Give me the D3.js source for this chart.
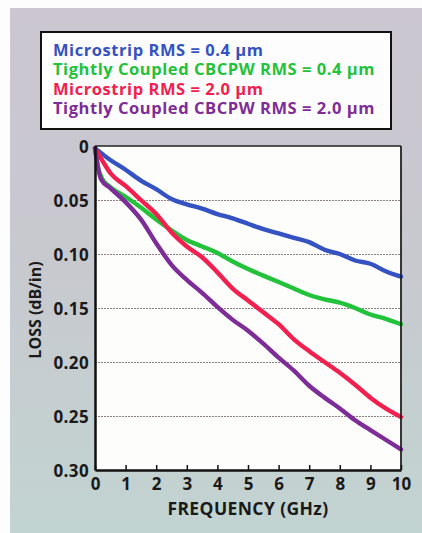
<!DOCTYPE html>
<html><head><meta charset="utf-8">
<script src="https://cdn.jsdelivr.net/npm/d3@7"></script>
<style>
html,body{margin:0;padding:0;background:#fff;}
svg{display:block;}
text{font-family:"Open Sans",sans-serif;font-weight:700;}
</style></head>
<body>
<svg id="chart" width="422" height="533"></svg>
<script>
// ---- data ----
const seriesNames = [
  "Microstrip RMS = 0.4 µm",
  "Tightly Coupled CBCPW RMS = 0.4 µm",
  "Microstrip RMS = 2.0 µm",
  "Tightly Coupled CBCPW RMS = 2.0 µm"
];
const seriesColors = ["#3452c2", "#22c23a", "#f2204e", "#7e2c98"];

const freqA = [0,0.5,1,1.5,2,2.5,3,3.5,4,4.5,5,5.5,6,6.5,7,7.5,8,8.5,9,9.5,10];
const microstrip04 = [0.002,0.013,0.022,0.032,0.040,0.049,0.054,0.058,0.063,0.067,0.072,0.077,0.081,0.085,0.089,0.096,0.100,0.106,0.109,0.116,0.121];

const freqB = [0,0.1,0.25,0.5,1,1.5,2,2.5,3,3.5,4,4.5,5,5.5,6,6.5,7,7.5,8,8.5,9,9.5,10];
const cbcpw04 = [0.002,0.020,0.031,0.038,0.047,0.057,0.068,0.078,0.087,0.093,0.099,0.107,0.114,0.120,0.126,0.132,0.138,0.142,0.145,0.150,0.156,0.160,0.165];

const freqC = [0,0.25,0.5,1,1.5,2,2.5,3,3.5,4,4.5,5,5.5,6,6.5,7,7.5,8,8.5,9,9.5,10];
const microstrip20 = [0.002,0.014,0.025,0.037,0.050,0.063,0.080,0.093,0.103,0.117,0.132,0.143,0.154,0.165,0.179,0.190,0.200,0.210,0.221,0.233,0.243,0.251];

const freqD = [0,0.1,0.2,0.5,1,1.5,2,2.5,3,3.5,4,4.5,5,5.5,6,6.5,7,7.5,8,8.5,9,9.5,10];
const cbcpw20 = [0.002,0.020,0.031,0.039,0.052,0.068,0.090,0.110,0.124,0.136,0.149,0.161,0.171,0.183,0.196,0.208,0.222,0.233,0.243,0.254,0.263,0.272,0.281];

const xTicks = [0,1,2,3,4,5,6,7,8,9,10];
const yTicks = [0,0.05,0.10,0.15,0.20,0.25,0.30];
const yTickLabels = ["0","0.05","0.10","0.15","0.20","0.25","0.30"];
const xTitle = "FREQUENCY (GHz)";
const yTitle = "LOSS (dB/in)";

const series = [
  {name: seriesNames[0], color: seriesColors[0], f: freqA, v: microstrip04},
  {name: seriesNames[1], color: seriesColors[1], f: freqB, v: cbcpw04},
  {name: seriesNames[2], color: seriesColors[2], f: freqC, v: microstrip20},
  {name: seriesNames[3], color: seriesColors[3], f: freqD, v: cbcpw20}
];

// ---- layout ----
const svg = d3.select("#chart");
const W = 422, H = 533;
const plot = {l: 95, r: 401, t: 146, b: 470};

const defs = svg.append("defs");
const grad = defs.append("linearGradient").attr("id","bg").attr("x1",0).attr("y1",0).attr("x2",0).attr("y2",1);
grad.append("stop").attr("offset","0%").attr("stop-color","#cbc6cf");
grad.append("stop").attr("offset","45%").attr("stop-color","#c8c8cf");
grad.append("stop").attr("offset","100%").attr("stop-color","#c2d4d1");

svg.append("rect").attr("x",0).attr("y",0).attr("width",W).attr("height",H).attr("fill","#fdfdfd");
svg.append("rect").attr("x",10).attr("y",8).attr("width",W-10).attr("height",H-8).attr("fill","url(#bg)");

const x = d3.scaleLinear().domain([0,10]).range([plot.l, plot.r]);
const y = d3.scaleLinear().domain([0,0.30]).range([plot.t, plot.b]);

// plot area
svg.append("rect").attr("x",plot.l).attr("y",plot.t).attr("width",plot.r-plot.l).attr("height",plot.b-plot.t).attr("fill","#fdfdfc");

// gridlines
const grid = svg.append("g").attr("transform",`translate(${plot.l},0)`)
  .call(d3.axisLeft(y).tickValues(yTicks.slice(1,-1)).tickSize(-(plot.r-plot.l)).tickFormat(""));
grid.select(".domain").remove();
grid.selectAll("line").attr("stroke","#8c7f80").attr("stroke-width",1.1).attr("stroke-dasharray","2,1");

// series lines
const line = d3.line().x(d => x(d[0])).y(d => y(d[1])).curve(d3.curveMonotoneX);
series.forEach(s => {
  const pts = s.f.map((f,i) => [f, s.v[i]]);
  svg.append("path").datum(pts).attr("d", line)
    .attr("fill","none").attr("stroke", s.color).attr("stroke-width",4.4)
    .attr("stroke-linejoin","round").attr("stroke-linecap","round");
});

// frame: top/right thin
svg.append("line").attr("x1",plot.l).attr("x2",plot.r).attr("y1",plot.t).attr("y2",plot.t).attr("stroke","#222").attr("stroke-width",1.5);
svg.append("line").attr("x1",plot.r).attr("x2",plot.r).attr("y1",plot.t).attr("y2",plot.b).attr("stroke","#222").attr("stroke-width",1.8);

// bottom axis
const xa = svg.append("g").attr("transform",`translate(0,${plot.b})`)
  .call(d3.axisBottom(x).tickValues(xTicks).tickSize(-5).tickSizeOuter(0).tickPadding(10).tickFormat(d3.format("d")));
xa.select(".domain").attr("stroke","#111").attr("stroke-width",2.5);
xa.selectAll("line").attr("stroke","#111").attr("stroke-width",1.5);
xa.selectAll("text").attr("fill","#1a1a1a").attr("font-size",17).attr("font-weight",800)
  .attr("font-family","'Open Sans',sans-serif").attr("dy","0.71em").attr("y",8);

// left axis
const ya = svg.append("g").attr("transform",`translate(${plot.l},0)`)
  .call(d3.axisLeft(y).tickValues(yTicks).tickSize(0).tickPadding(6).tickFormat((d,i) => yTickLabels[i]));
ya.select(".domain").attr("stroke","#111").attr("stroke-width",2.5);
ya.selectAll("text").attr("fill","#1a1a1a").attr("font-size",17).attr("font-weight",800)
  .attr("letter-spacing","0.4px")
  .attr("font-family","'Open Sans',sans-serif").attr("dy","0.36em");

// axis titles
svg.append("text").attr("x",248).attr("y",515).attr("text-anchor","middle")
  .attr("font-size",17.5).attr("font-weight",800).attr("letter-spacing","0.4px").attr("fill","#1a1a1a").text(xTitle);
svg.append("text").attr("transform","translate(41,310) rotate(-90)").attr("text-anchor","middle")
  .attr("font-size",16).attr("font-weight",800).attr("fill","#1a1a1a").text(yTitle);

// legend
svg.append("rect").attr("x",41).attr("y",32).attr("width",350).attr("height",97)
  .attr("fill","#fdfdfd").attr("stroke","#111").attr("stroke-width",2);
series.forEach((s,i) => {
  svg.append("text").attr("x",53).attr("y",55.5 + i*19.6)
    .attr("font-size",16.5).attr("font-weight",800).attr("letter-spacing","0.55px")
    .attr("fill",s.color).text(s.name);
});
</script>
</body></html>
